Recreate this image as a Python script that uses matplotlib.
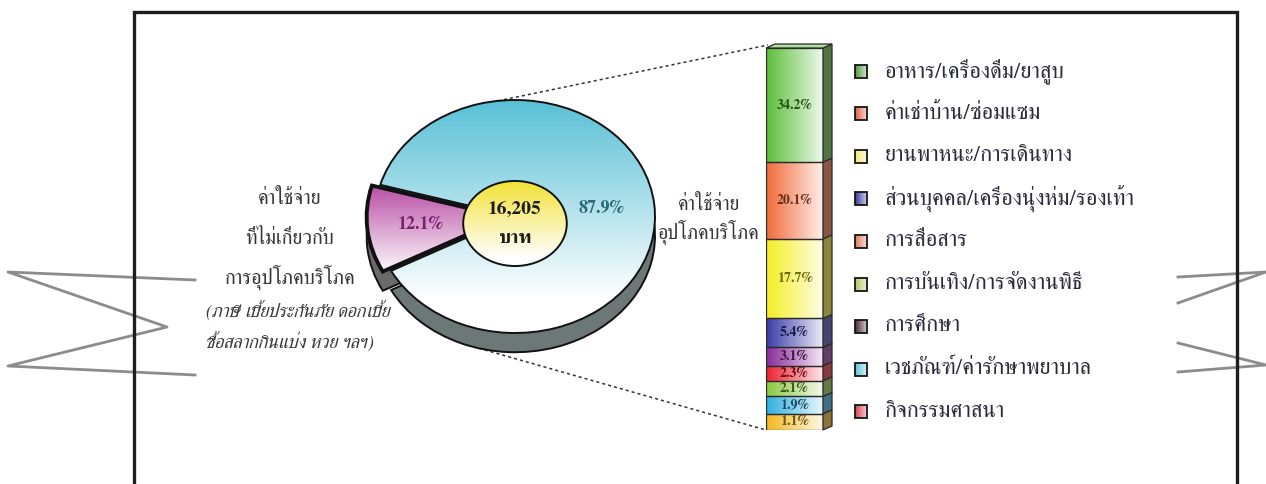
import numpy as np
import matplotlib
matplotlib.use("Agg")
import matplotlib.pyplot as plt
from matplotlib.patches import Rectangle, Polygon, Ellipse, Wedge
from matplotlib.transforms import IdentityTransform
from matplotlib.colors import to_rgb

plt.rcParams['font.family'] = ['FreeSerif', 'Noto Serif Thai', 'DejaVu Sans']

# ---------------- data ----------------
pie_values = [12.1, 87.9]                      # non-consumption, consumption (%)
total_amount = "16,205"
total_unit = "บาท"
left_label_lines = ["ค่าใช้จ่าย", "ที่ไม่เกี่ยวกับ", "การอุปโภคบริโภค"]
left_note_lines = ["(ภาษี เบี้ยประกันภัย ดอกเบี้ย", "ซื้อสลากกินแบ่ง หวย ฯลฯ)"]
right_label_lines = ["ค่าใช้จ่าย", "อุปโภคบริโภค"]

categories = ["อาหาร/เครื่องดื่ม/ยาสูบ", "ค่าเช่าบ้าน/ซ่อมแซม", "ยานพาหนะ/การเดินทาง",
              "ส่วนบุคคล/เครื่องนุ่งห่ม/รองเท้า", "การสื่อสาร", "การบันเทิง/การจัดงานพิธี",
              "การศึกษา", "เวชภัณฑ์/ค่ารักษาพยาบาล", "กิจกรรมศาสนา"]
bar_values = [34.2, 20.1, 17.7, 5.4, 3.1, 2.3, 2.1, 1.9, 1.1]

# ---------------- styles ----------------
bar_colors = ["#5cbf3a", "#f26b3a", "#f5ee22", "#3b3ba8", "#8a2a9a",
              "#ee2030", "#8cc840", "#30b0e0", "#f5b820"]
legend_colors = ["#4f9a3a", "#e06048", "#eeea70", "#3a3aa0", "#e07a60",
                 "#b8c460", "#4a2a3a", "#60c4d8", "#d84050"]
pie_top_colors = ["#b0389a", "#58c0d6"]
pie_face_lw = [2.8, 1.4]

W, H = 1266, 484
fig = plt.figure(figsize=(W / 100, H / 100), dpi=100)
fig.patch.set_facecolor("white")


def mix(c1, c2, t):
    a, b = np.array(to_rgb(c1)), np.array(to_rgb(c2))
    return tuple(a * (1 - t) + b * t)


def gradient(ax, clip, extent, c0, c1, z, horizontal=False, n=200):
    t = np.linspace(0, 1, n)
    cols = np.array([mix(c0, c1, v) for v in t])
    img = cols[None, :, :] if horizontal else cols[:, None, :]
    im = ax.imshow(img, extent=extent, origin="upper", aspect="auto",
                   zorder=z, interpolation="bilinear")
    im.set_clip_path(clip)
    return im


# ---------------- background / decorations ----------------
bg = fig.add_axes([0, 0, 1, 1])
bg.set_xlim(0, W)
bg.set_ylim(H, 0)
bg.axis("off")
bg.set_zorder(0)

# zig-zag break marks
bg.plot([195, 8, 167, 8, 195], [280, 272, 327, 366, 375], color="#8c8c8c", lw=2, zorder=1)
bg.plot([1178, 1266, 1178], [277, 272, 303], color="#8c8c8c", lw=2, zorder=1)
bg.plot([1178, 1266, 1178], [343, 365, 372], color="#8c8c8c", lw=2, zorder=1)
# frame
bg.plot([134, 134, 1237, 1237], [H + 5, 11.5, 11.5, H + 5], color="#1e1e1e", lw=2.4,
        zorder=2, solid_joinstyle="miter")

# ---------------- pie (elliptical, with depth) ----------------
cx, cy, a, b = 515, 216.5, 140, 116.5
m = 1.4
pie_ax = fig.add_axes([(cx - m * a) / W, 1 - (cy + m * b) / H, 2 * m * a / W, 2 * m * b / H])
pie_ax.set_zorder(1)
depth = 0.165
explode = [0.06, 0.0]
start = 180 - pie_values[0] * 3.6 / 2 + 6

# side (shadow) of the disc
pie_ax.pie(pie_values, explode=explode, startangle=start, center=(0, -depth),
           colors=["#6a6a6a", "#6c7878"],
           wedgeprops=dict(edgecolor="#111111", linewidth=1.4), normalize=True)
# top face
wedges, _, autotexts = pie_ax.pie(pie_values, explode=explode, startangle=start,
                                  colors=["white", "white"], autopct="%.1f%%", pctdistance=0.62,
                                  wedgeprops=dict(edgecolor="none"), normalize=True)
for w, lw in zip(wedges, pie_face_lw):
    w.set_zorder(2)
    pie_ax.add_patch(Wedge(w.center, w.r, w.theta1, w.theta2,
                           fill=False, ec="#111111", lw=lw, zorder=4))
# gradients on the top face
gradient(pie_ax, wedges[0], (-1.3, 0.2, -0.5, 0.36), pie_top_colors[0], "#ffffff", 3)
gradient(pie_ax, wedges[1], (-1.1, 1.1, -0.72, 1.0), pie_top_colors[1], "#ffffff", 3)
autotexts[0].set_color("#7a2070")
autotexts[1].set_color("#2a6a78")
for t in autotexts:
    t.set_fontweight("bold")
    t.set_fontsize(13)
    t.set_zorder(6)

inner = Ellipse((0, -0.06), 0.74, 0.73, fc="white", ec="none", zorder=5)
pie_ax.add_patch(inner)
gradient(pie_ax, inner, (-0.4, 0.4, -0.35, 0.32), "#f2e02c", "#ffffff", 5.5)
pie_ax.add_patch(Ellipse((0, -0.06), 0.74, 0.73, fill=False, ec="#111111", lw=1.4, zorder=5.8))
pie_ax.text(0, 0.06, total_amount, ha="center", va="center", fontsize=14,
            fontweight="bold", color="#1e1e1e", zorder=7)
pie_ax.text(0, -0.19, total_unit, ha="center", va="center", fontsize=14,
            fontweight="bold", color="#1e1e1e", zorder=7)
pie_ax.set_xlim(-m, m)
pie_ax.set_ylim(-m, m)
pie_ax.set_aspect("auto")
pie_ax.axis("off")

# ---------------- stacked bar ----------------
bx0, bx1, by0, by1 = 766, 823, 48, 430
bar_ax = fig.add_axes([bx0 / W, 1 - by1 / H, (bx1 - bx0) / W, (by1 - by0) / H])
bar_ax.set_zorder(1)
pw = 0.72
fwd = lambda y: np.sign(y) * np.abs(y) ** pw
inv = lambda y: np.sign(y) * np.abs(y) ** (1 / pw)
bar_ax.set_yscale("function", functions=(fwd, inv))
total = float(np.sum(bar_values))
bar_ax.set_xlim(-0.5, 0.5)
bar_ax.set_ylim(0, total)
bar_ax.axis("off")

vals_bottom_up = bar_values[::-1]
cols_bottom_up = bar_colors[::-1]
bottoms = np.concatenate([[0], np.cumsum(vals_bottom_up)[:-1]])
rects = bar_ax.bar([0] * len(vals_bottom_up), vals_bottom_up, width=1.0, bottom=bottoms,
                   color="white", edgecolor="none", zorder=1)
for r, v, bt, c in zip(rects, vals_bottom_up, bottoms, cols_bottom_up):
    gradient(bar_ax, r, (-0.5, 0.5, bt, bt + v), c, mix(c, "#ffffff", 0.9), 2, horizontal=True)
    bar_ax.add_patch(Rectangle((-0.5, bt), 1.0, v, fill=False, ec="#2a2a2a", lw=0.9, zorder=3))
    ymid = inv((fwd(bt) + fwd(bt + v)) / 2)
    bar_ax.text(0, ymid, f"{v:.1f}%", ha="center", va="center", fontsize=10,
                fontweight="bold", color=mix(c, "#000000", 0.55), zorder=4)

# 3-D side and top of the bar (in display pixels)
dx, dy = 9, 4
fig.canvas.draw()
T = bar_ax.transData
for v, bt, c in zip(vals_bottom_up, bottoms, cols_bottom_up):
    (xr, ya), (_, yb) = T.transform([(0.5, bt), (0.5, bt + v)])
    pts = [(xr, ya), (xr + dx, ya + dy), (xr + dx, yb + dy), (xr, yb)]
    fig.add_artist(Polygon(pts, closed=True, transform=IdentityTransform(),
                           fc=mix(c, "#4a4a4a", 0.62), ec="#2a2a2a", lw=0.9, zorder=5))
(xl, yt), (xr, _) = T.transform([(-0.5, total), (0.5, total)])
top_pts = [(xl, yt), (xl + dx, yt + dy), (xr + dx, yt + dy), (xr, yt)]
fig.add_artist(Polygon(top_pts, closed=True, transform=IdentityTransform(),
                       fc=mix(bar_colors[0], "#ffffff", 0.5), ec="#2a2a2a", lw=0.9, zorder=5))

# connector dotted lines (pie -> bar), display -> bg coords
to_bg = bg.transData.inverted()
Tp = pie_ax.transData
p_top = to_bg.transform(Tp.transform((np.cos(np.radians(97)), np.sin(np.radians(97)))))
p_bot = to_bg.transform(Tp.transform((np.cos(np.radians(255)), np.sin(np.radians(255)) - depth)))
b_top = to_bg.transform(T.transform((-0.5, total)))
b_bot = to_bg.transform(T.transform((-0.5, 0)))
bg.plot([p_top[0], b_top[0] + 2], [p_top[1], b_top[1] - 3], ls=(0, (2, 2)), color="#333333", lw=1.1)
bg.plot([p_bot[0], b_bot[0]], [p_bot[1], b_bot[1]], ls=(0, (2, 2)), color="#333333", lw=1.1)

# ---------------- labels ----------------
txt_col = "#3a3434"
for s, y in zip(left_label_lines, [199, 239, 277]):
    bg.text(290, y, s, ha="center", va="center", fontsize=14.5, color=txt_col)
for s, y in zip(left_note_lines, [312, 343]):
    bg.text(206, y, s, ha="left", va="center", fontsize=13.3, color=txt_col, style="italic")
for s, y in zip(right_label_lines, [205, 232]):
    bg.text(709, y, s, ha="center", va="center", fontsize=14.2, color=txt_col)

# ---------------- legend ----------------
row0, step = 71, 42.6
for i, (lab, c) in enumerate(zip(categories, legend_colors)):
    y = row0 + i * step
    sq = Rectangle((855, y - 6.5), 12, 13, fc="white", ec="none", zorder=2)
    bg.add_patch(sq)
    gradient(bg, sq, (855, 867, y + 6.5, y - 6.5), c, mix(c, "#ffffff", 0.75), 3, horizontal=True)
    bg.add_patch(Rectangle((855, y - 6.5), 12, 13, fill=False, ec="#151515", lw=1.3, zorder=4))
    bg.text(885, y, lab, ha="left", va="center", fontsize=16, color="#2b2b3a")

bg.set_xlim(0, W)
bg.set_ylim(H, 0)
fig.savefig("out.png", dpi=100, facecolor="white")
